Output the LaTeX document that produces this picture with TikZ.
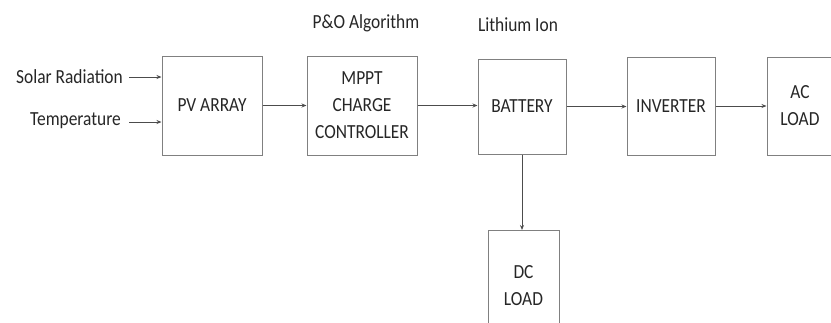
\documentclass[tikz,border=0pt]{standalone}
\usepackage{fontspec}
\setmainfont[FakeStretch=0.87]{Carlito}
\usetikzlibrary{arrows.meta}
\begin{document}
\begin{tikzpicture}[x=1pt,y=-1pt,
  blk/.style={draw=black!50,line width=1pt,align=center,inner sep=0pt,
    font=\fontsize{20}{27}\selectfont,text=black!85},
  lbl/.style={inner sep=0pt,font=\fontsize{20}{27}\selectfont,text=black!85},
  conn/.style={draw=black!70,line width=0.9pt,-{Stealth[length=5pt,width=4pt]}}]
\useasboundingbox (0,0) rectangle (831,322);
\clip (0,0) rectangle (831,322);
\node[blk,minimum width=100pt,minimum height=99pt] (pv) at (212,105.5) {PV ARRAY};
\node[blk,minimum width=110pt,minimum height=99pt] (mppt) at (362,105.5) {MPPT\\CHARGE\\CONTROLLER};
\node[blk,minimum width=88pt,minimum height=95pt] (bat) at (522,106.5) {BATTERY};
\node[blk,minimum width=88pt,minimum height=98pt] (inv) at (671,106) {INVERTER};
\node[blk,minimum width=76pt,minimum height=98pt] (ac) at (805,106) {\hspace*{-10pt}AC\\\hspace*{-10pt}LOAD};
\node[blk,minimum width=71pt,minimum height=110pt,anchor=north] (dc) at (523.5,230) {\raisebox{14pt}{}DC\\LOAD};
\node[lbl,anchor=east] (sol) at (123,77) {Solar Radiation};
\node[lbl,anchor=east] (tmp) at (121,121) {Temperature};
\node[lbl] (po) at (366,23) {P\&O Algorithm};
\node[lbl] (li) at (518,25) {Lithium Ion};
\coordinate (s1) at (129,77);
\coordinate (t1) at (129,122);
\draw[conn] (s1) -- (s1 -| pv.west);
\draw[conn] (t1) -- (t1 -| pv.west);
\draw[conn] (pv.east) -- (mppt.west);
\draw[conn] (mppt.east) -- (mppt.east -| bat.west);
\draw[conn] (bat.east) -- (bat.east -| inv.west);
\draw[conn] (inv.east) -- (inv.east -| ac.west);
\draw[conn] (bat.south) -- (bat.south |- dc.north);
\end{tikzpicture}
\end{document}
